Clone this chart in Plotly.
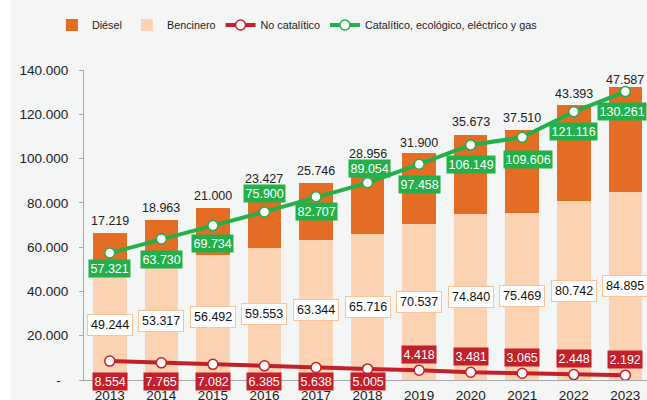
import plotly.graph_objects as go

years = [2013, 2014, 2015, 2016, 2017, 2018, 2019, 2020, 2021, 2022, 2023]
diesel = [17219, 18963, 21000, 23427, 25746, 28956, 31900, 35673, 37510, 43393, 47587]
bencinero = [49244, 53317, 56492, 59553, 63344, 65716, 70537, 74840, 75469, 80742, 84895]
no_catalitico = [8554, 7765, 7082, 6385, 5638, 5005, 4418, 3481, 3065, 2448, 2192]
catalitico = [57321, 63730, 69734, 75900, 82707, 89054, 97458, 106149, 109606, 121116, 130261]
y_tickvals = [0, 20000, 40000, 60000, 80000, 100000, 120000, 140000]
y_ticktext = ["-\u00a0\u00a0", "20.000", "40.000", "60.000", "80.000", "100.000", "120.000", "140.000"]

# label offsets (pixels)
diesel_shift = [12, 12, 12, 17, 12, 16, 10, 13, 12, 11, 7]
green_shift = [-15, -21, -18, 18, -15, 14, -20, -20, -22, -20, -20]
green_xshift = [0, 0, 0, 0, 0, 2, 0, 0, 6, 0, -3]
red_above = [False, False, False, False, False, False, True, True, True, True, True]

ORANGE = "#e46c24"
PEACH = "#fbd3b2"
GREEN = "#22b04b"
RED = "#c3202b"
BG = "#f4f5f5"

def fmt(v):
    return f"{v:,}".replace(",", ".")

fig = go.Figure()
fig.add_trace(go.Bar(x=years, y=bencinero, name="Bencinero", marker_color=PEACH,
                     marker_line_width=0, width=0.65, legendrank=2))
fig.add_trace(go.Bar(x=years, y=diesel, name="Diésel", marker_color=ORANGE,
                     marker_line_width=0, width=0.65, legendrank=1))
fig.add_trace(go.Scatter(x=years, y=no_catalitico, name="No catalítico", mode="lines+markers",
                         line=dict(color=RED, width=4),
                         marker=dict(size=10, color="white", line=dict(color=RED, width=1.5)),
                         legendrank=3, cliponaxis=False))
fig.add_trace(go.Scatter(x=years, y=catalitico, name="Catalítico, ecológico, eléctrico y gas",
                         mode="lines+markers", line=dict(color=GREEN, width=4),
                         marker=dict(size=10, color="white", line=dict(color=GREEN, width=1.5)),
                         legendrank=4, cliponaxis=False))

ann = []
lab_font = dict(family="Liberation Sans, Arial, sans-serif", size=12.5)
for i, yr in enumerate(years):
    ann.append(dict(x=yr, y=bencinero[i] + diesel[i], text=fmt(diesel[i]), showarrow=False,
                    yshift=diesel_shift[i], font=dict(lab_font, color="#222222")))
    ann.append(dict(x=yr, y=bencinero[i] / 2, text=fmt(bencinero[i]), showarrow=False,
                    font=dict(lab_font, color="#111111"), bgcolor="white",
                    bordercolor="#f9c49c", borderwidth=1, borderpad=3))
    ann.append(dict(x=yr, y=catalitico[i], text=fmt(catalitico[i]), showarrow=False,
                    yshift=green_shift[i], xshift=green_xshift[i],
                    font=dict(lab_font, color="white"), bgcolor=GREEN, borderpad=1.5))
    if red_above[i]:
        ann.append(dict(x=yr, y=no_catalitico[i], text=fmt(no_catalitico[i]), showarrow=False,
                        yshift=16, font=dict(lab_font, color="white"), bgcolor=RED, borderpad=1.5))
    else:
        ann.append(dict(x=yr, y=0, text=fmt(no_catalitico[i]), showarrow=False,
                        yshift=-1, font=dict(lab_font, color="white"), bgcolor=RED, borderpad=1.5))

fig.update_layout(
    width=647, height=400,
    margin=dict(l=84, r=0, t=70, b=20, autoexpand=False),
    barmode="stack",
    paper_bgcolor=BG, plot_bgcolor=BG,
    font=dict(family="Liberation Sans, Arial, sans-serif", color="#222222"),
    showlegend=True,
    legend=dict(orientation="h", x=-0.057, xanchor="left", y=1.145, yanchor="middle",
                font=dict(family="Liberation Sans Narrow, Arial Narrow, Liberation Sans, sans-serif",
                          size=10.8, color="#222222"),
                bgcolor="rgba(0,0,0,0)", traceorder="normal", itemwidth=30),
    xaxis=dict(range=[2012.5, 2023.42], tickvals=years, ticktext=[str(y) for y in years],
               showgrid=False, zeroline=False, showline=True, linecolor="#a6a6a6", linewidth=1,
               ticks="", tickfont=dict(size=13.5, color="#222222"), ticklabelstandoff=3,
               automargin=False),
    yaxis=dict(range=[0, 140000], tickvals=y_tickvals, ticktext=y_ticktext,
               showgrid=False, zeroline=False, showline=True, linecolor="#a6a6a6", linewidth=1,
               ticks="outside", ticklen=4, tickcolor="#a6a6a6",
               tickfont=dict(size=13.5, color="#222222"), ticklabelstandoff=8,
               automargin=False),
    annotations=ann,
    shapes=[dict(type="rect", xref="paper", yref="paper", x0=-84/563, x1=-73/563,
                 y0=-20/310, y1=380/310, fillcolor="white", line_width=0, layer="below")],
)

fig.write_html("out.html", config={"displayModeBar": False},
               post_script="document.body.style.margin='0';document.body.style.overflow='hidden';")
